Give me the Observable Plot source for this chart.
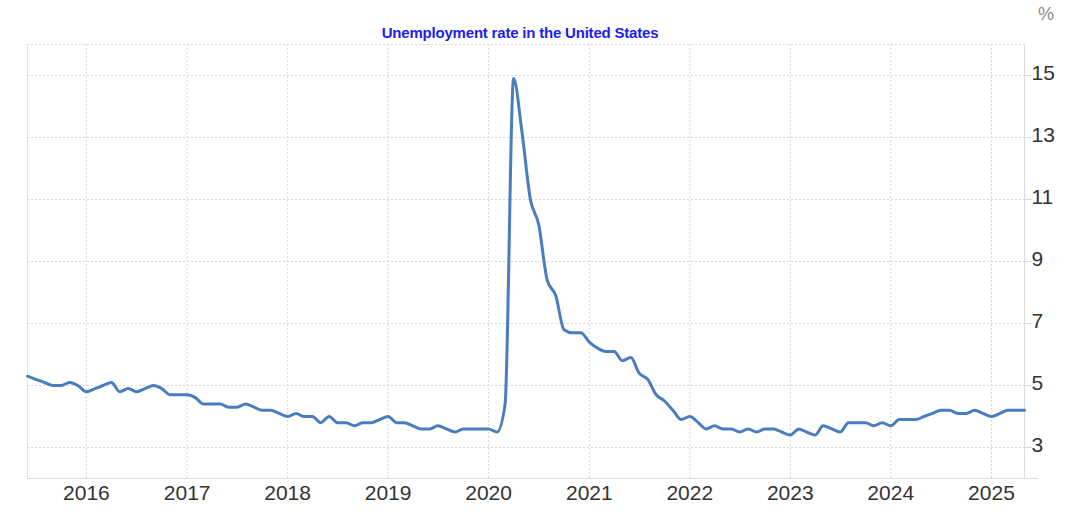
<!DOCTYPE html>
<html>
<head>
<meta charset="utf-8">
<script src="https://cdn.jsdelivr.net/npm/d3@7"></script>
<script src="https://cdn.jsdelivr.net/npm/@observablehq/plot@0.6"></script>
<style>
  body { margin: 0; background: #fff; }
  #wrap { position: relative; width: 1070px; height: 521px; overflow: hidden; }
  #title { position: absolute; left: 0; width: 1040px; top: 24px; text-align: center;
           font: bold 15px "Liberation Sans", Arial, sans-serif; color: #1c1cf5; letter-spacing: -0.2px; }
  #unit { position: absolute; left: 1038px; top: 4px; font: 18px "Liberation Sans", Arial, sans-serif; color: #8a8a8a; }
  #chart { position: absolute; left: 0; top: 0; }
</style>
</head>
<body>
<div id="wrap">
  <div id="title"></div>
  <div id="unit"></div>
  <div id="chart"></div>
</div>
<script>
const chartTitle = "Unemployment rate in the United States";
const unitLabel = "%";
const startMonth = "2015-06-01";
const rates2015 = [5.3, 5.2, 5.1, 5.0, 5.0, 5.1, 5.0];
const rates2016 = [4.8, 4.9, 5.0, 5.1, 4.8, 4.9, 4.8, 4.9, 5.0, 4.9, 4.7, 4.7];
const rates2017 = [4.7, 4.6, 4.4, 4.4, 4.4, 4.3, 4.3, 4.4, 4.3, 4.2, 4.2, 4.1];
const rates2018 = [4.0, 4.1, 4.0, 4.0, 3.8, 4.0, 3.8, 3.8, 3.7, 3.8, 3.8, 3.9];
const rates2019 = [4.0, 3.8, 3.8, 3.7, 3.6, 3.6, 3.7, 3.6, 3.5, 3.6, 3.6, 3.6];
const rates2020 = [3.6, 3.5, 4.4, 14.9, 13.2, 11.0, 10.2, 8.4, 7.9, 6.8, 6.7, 6.7];
const rates2021 = [6.4, 6.2, 6.1, 6.1, 5.8, 5.9, 5.4, 5.2, 4.7, 4.5, 4.2, 3.9];
const rates2022 = [4.0, 3.8, 3.6, 3.7, 3.6, 3.6, 3.5, 3.6, 3.5, 3.6, 3.6, 3.5];
const rates2023 = [3.4, 3.6, 3.5, 3.4, 3.7, 3.6, 3.5, 3.8, 3.8, 3.8, 3.7, 3.8];
const rates2024 = [3.7, 3.9, 3.9, 3.9, 4.0, 4.1, 4.2, 4.2, 4.1, 4.1, 4.2, 4.1];
const rates2025 = [4.0, 4.1, 4.2, 4.2, 4.2];
const yTicks = [3, 5, 7, 9, 11, 13, 15];
const xTickYears = [2016, 2017, 2018, 2019, 2020, 2021, 2022, 2023, 2024, 2025];

document.getElementById("title").textContent = chartTitle;
document.getElementById("unit").textContent = unitLabel;

const rates = [...rates2015, ...rates2016, ...rates2017, ...rates2018, ...rates2019,
               ...rates2020, ...rates2021, ...rates2022, ...rates2023, ...rates2024, ...rates2025];
const start = new Date(startMonth);
const data = rates.map((v, i) => ({date: d3.utcMonth.offset(start, i), value: v}));
const xStart = data[0].date, xEnd = data[data.length - 1].date;
const xTicks = xTickYears.map(y => new Date(Date.UTC(y, 0, 1)));

const gridStyle = {stroke: "#d6d6e2", strokeOpacity: 1, strokeDasharray: "2,2", strokeWidth: 1};

const chart = Plot.plot({
  width: 1070,
  height: 521,
  marginLeft: 27,
  marginRight: 46,
  marginTop: 44,
  marginBottom: 43,
  style: {background: "transparent", fontFamily: '"Liberation Sans", Arial, sans-serif', fontSize: "21px", color: "#333"},
  x: {type: "utc", domain: [xStart, xEnd]},
  y: {domain: [2, 16]},
  marks: [
    Plot.gridX(xTicks, gridStyle),
    Plot.gridY([...yTicks, 16], gridStyle),
    Plot.ruleX([xStart], {stroke: "#e4e4e8"}),
    Plot.ruleX([xEnd], {stroke: "#dcdce0"}),
    Plot.ruleY([2], {stroke: "#dcdce0", insetRight: -14}),
    Plot.axisX(xTicks, {tickSize: 0, tickPadding: 7, tickFormat: d3.utcFormat("%Y"), label: null, color: "#333"}),
    Plot.axisY(yTicks, {anchor: "right", tickSize: 7, tickFormat: () => "", label: null, color: "#dcdce0"}),
    Plot.axisY(yTicks, {anchor: "right", tickSize: 0, tickPadding: 7, dy: -2, label: null, color: "#333"}),
    Plot.lineY(data, {x: "date", y: "value", stroke: "#4a7dbf", strokeWidth: 3, curve: "monotone-x"})
  ]
});
document.getElementById("chart").appendChild(chart);
</script>
</body>
</html>
